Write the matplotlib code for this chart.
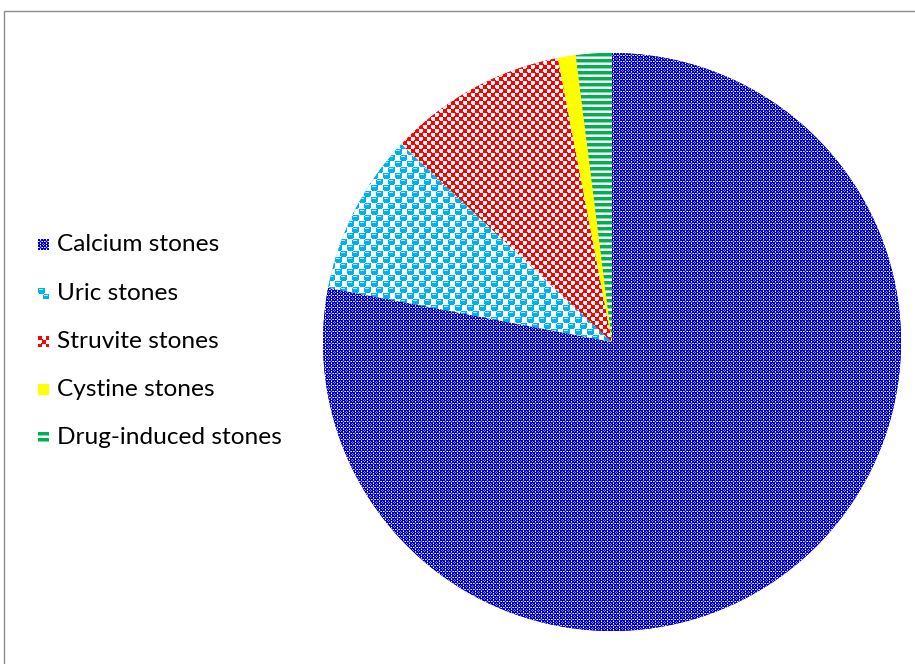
import matplotlib
matplotlib.use("Agg")
import numpy as np
import matplotlib.pyplot as plt
from matplotlib.patches import Rectangle
from matplotlib.colors import to_rgb

categories = ["Calcium stones", "Uric stones", "Struvite stones", "Cystine stones", "Drug-induced stones"]
values = [78, 9, 10, 1, 2]
face_colors = ["#0000C8", "#00B0F0", "#FF0000", "#FFFF00", "#00B050"]

plt.rcParams['font.family'] = ['Lato', 'DejaVu Sans']

W, H = 915, 664
fig = plt.figure(figsize=(W / 100, H / 100), dpi=100)

cx, cy, r = 612, 342, 289
N = 2 * r
ax = fig.add_axes([(cx - r) / W, (H - cy - r) / H, N / W, N / H])
wedges, _ = ax.pie(values, startangle=90, counterclock=False, radius=1,
                   colors=face_colors, wedgeprops=dict(linewidth=0))
ax.set_xlim(-1, 1)
ax.set_ylim(-1, 1)
ax.set_aspect("equal")
ax.axis("off")


def tile_image(tile, palette, n):
    t = np.array([[palette[c] for c in row] for row in tile])
    reps_y = n // t.shape[0] + 2
    reps_x = n // t.shape[1] + 2
    return np.tile(t, (reps_y, reps_x, 1))[:n, :n]


W_ = to_rgb("#FFFFFF")
pal_ca = {"B": to_rgb("#0000C8"), "W": W_, "L": to_rgb("#8C8CE8")}
tile_ca = ["BBWBBL",
           "BBLBBB",
           "WLBLWB",
           "BBLBBB",
           "BBWBBL",
           "LBBBLB"]
pal_ur = {"B": to_rgb("#00B0F0"), "W": W_, "L": to_rgb("#B2E6FA")}
tile_ur = ["BBBBBBBWWWWW",
           "BLLLLBBWWWWW",
           "BBBBBBBWWWWW",
           "BBBBBBBWWWWW",
           "BBBBBBBWWWWW",
           "WBBBBBWWWWWW",
           "WWWWWWBBBBBB",
           "WWWWWBLLLLBB",
           "WWWWWBBBBBBB",
           "WWWWWBBBBBBB",
           "WWWWWBBBBBBB",
           "WWWWWWBBBBBW"]
pal_st = {"R": to_rgb("#FF0000"), "W": W_}
tile_st = ["RRRRWWWW",
           "RRRRWWWW",
           "RRRRWWWW",
           "RRRRRWWW",
           "WWWWRRRR",
           "WWWWRRRR",
           "WWWWRRRR",
           "WWWRRRRR"]
pal_cy = {"Y": to_rgb("#FFFF00")}
tile_cy = ["Y"]
pal_dr = {"G": to_rgb("#00B050"), "L": to_rgb("#80D8A8"), "W": W_}
tile_dr = ["G", "G", "G", "L", "W", "W"]

textures = [(tile_ca, pal_ca), (tile_ur, pal_ur), (tile_st, pal_st),
            (tile_cy, pal_cy), (tile_dr, pal_dr)]

for w, (tile, pal) in zip(wedges, textures):
    img = tile_image(tile, pal, N)
    im = ax.imshow(img, extent=(-1, 1, -1, 1), interpolation="nearest",
                   origin="upper", zorder=3)
    im.set_clip_path(w)
ax.set_xlim(-1, 1)
ax.set_ylim(-1, 1)

# legend (manual)
y0, dy = 245, 48.2
hs = 11
for i, (lab, (tile, pal)) in enumerate(zip(categories, textures)):
    yc = y0 + i * dy
    hax = fig.add_axes([38 / W, 1 - (yc + hs / 2) / H, hs / W, hs / H])
    hax.imshow(tile_image(tile, pal, hs), interpolation="nearest", aspect="auto")
    hax.axis("off")
    fig.text(57 / W, 1 - yc / H, lab, fontsize=17.6, va="center", ha="left",
             color="#000000")

fig.add_artist(Rectangle((4 / W, -0.01), 1.0, 1 - 11 / H + 0.01,
                         transform=fig.transFigure, fill=False,
                         edgecolor="#8C8C8C", linewidth=1.0))

fig.savefig("out.png", dpi=100)
